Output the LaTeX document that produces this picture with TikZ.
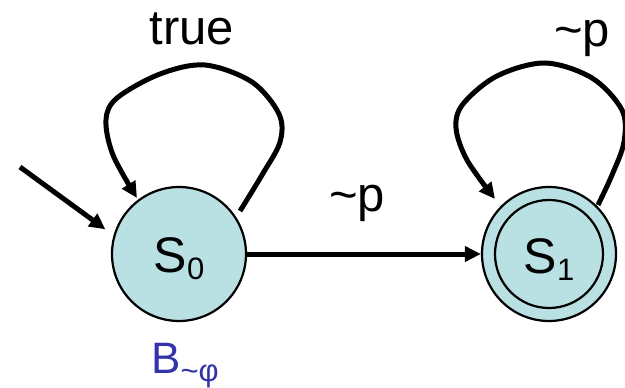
\documentclass[tikz,border=0pt]{standalone}
\usepackage{fontspec}
\setmainfont{Liberation Sans}
\usetikzlibrary{arrows.meta}
\definecolor{statefill}{RGB}{185,224,227}
\definecolor{autblue}{RGB}{51,51,170}
\tikzset{
  state/.style={circle, draw=black, line width=2.2pt, fill=statefill, minimum size=134pt, inner sep=0pt,
    font=\fontsize{50}{51}\selectfont},
  edge/.style={line width=5pt, -{Triangle[length=16pt,width=15pt]}},
  lbl/.style={font=\fontsize{49}{50}\selectfont, inner sep=0pt}
}
\newcommand{\stname}[1]{\rule{0pt}{45pt}S\raisebox{-7pt}{\fontsize{31}{32}\selectfont #1}}
\begin{document}
\begin{tikzpicture}[x=1pt,y=-1pt]
\useasboundingbox (0,0) rectangle (625,388);
\clip (0,0) rectangle (625,388);
\node[state] (s0) at (179,254) {\stname{0}};
\node[state] (s1) at (549,254) {\stname{1}};
\draw[line width=2.2pt] (s1.center) circle (54pt);
\coordinate (init) at (20,167);
\draw[edge, shorten >=10pt] (init) -- (s0.164);
\draw[edge] (s0) -- (s1);
% self loop on s0
\draw[edge] plot[smooth, tension=0.55] coordinates {(240,211) (262,175) (280,142) (279,114) (252,82) (205,65) (160,74) (117,98) (106,120) (113,155) (137,198)};
% self loop on s1
\draw[edge] plot[smooth, tension=0.55] coordinates {(598,205) (612,175) (624,142) (622,110) (592,78) (545,63) (497,76) (463,104) (456,128) (467,160) (495,199)};
\node[lbl] (ltrue) at (192,29) {true};
\node[lbl] (lp1) at (357,203) {\textasciitilde p};
\node[lbl] (lp2) at (582,38) {\textasciitilde p};
\node[inner sep=0pt, text=autblue, anchor=base west] (bname) at (151,373) {\fontsize{44}{46}\selectfont B\raisebox{-8pt}{\fontsize{31}{32}\selectfont \textasciitilde φ}};
\end{tikzpicture}
\end{document}
